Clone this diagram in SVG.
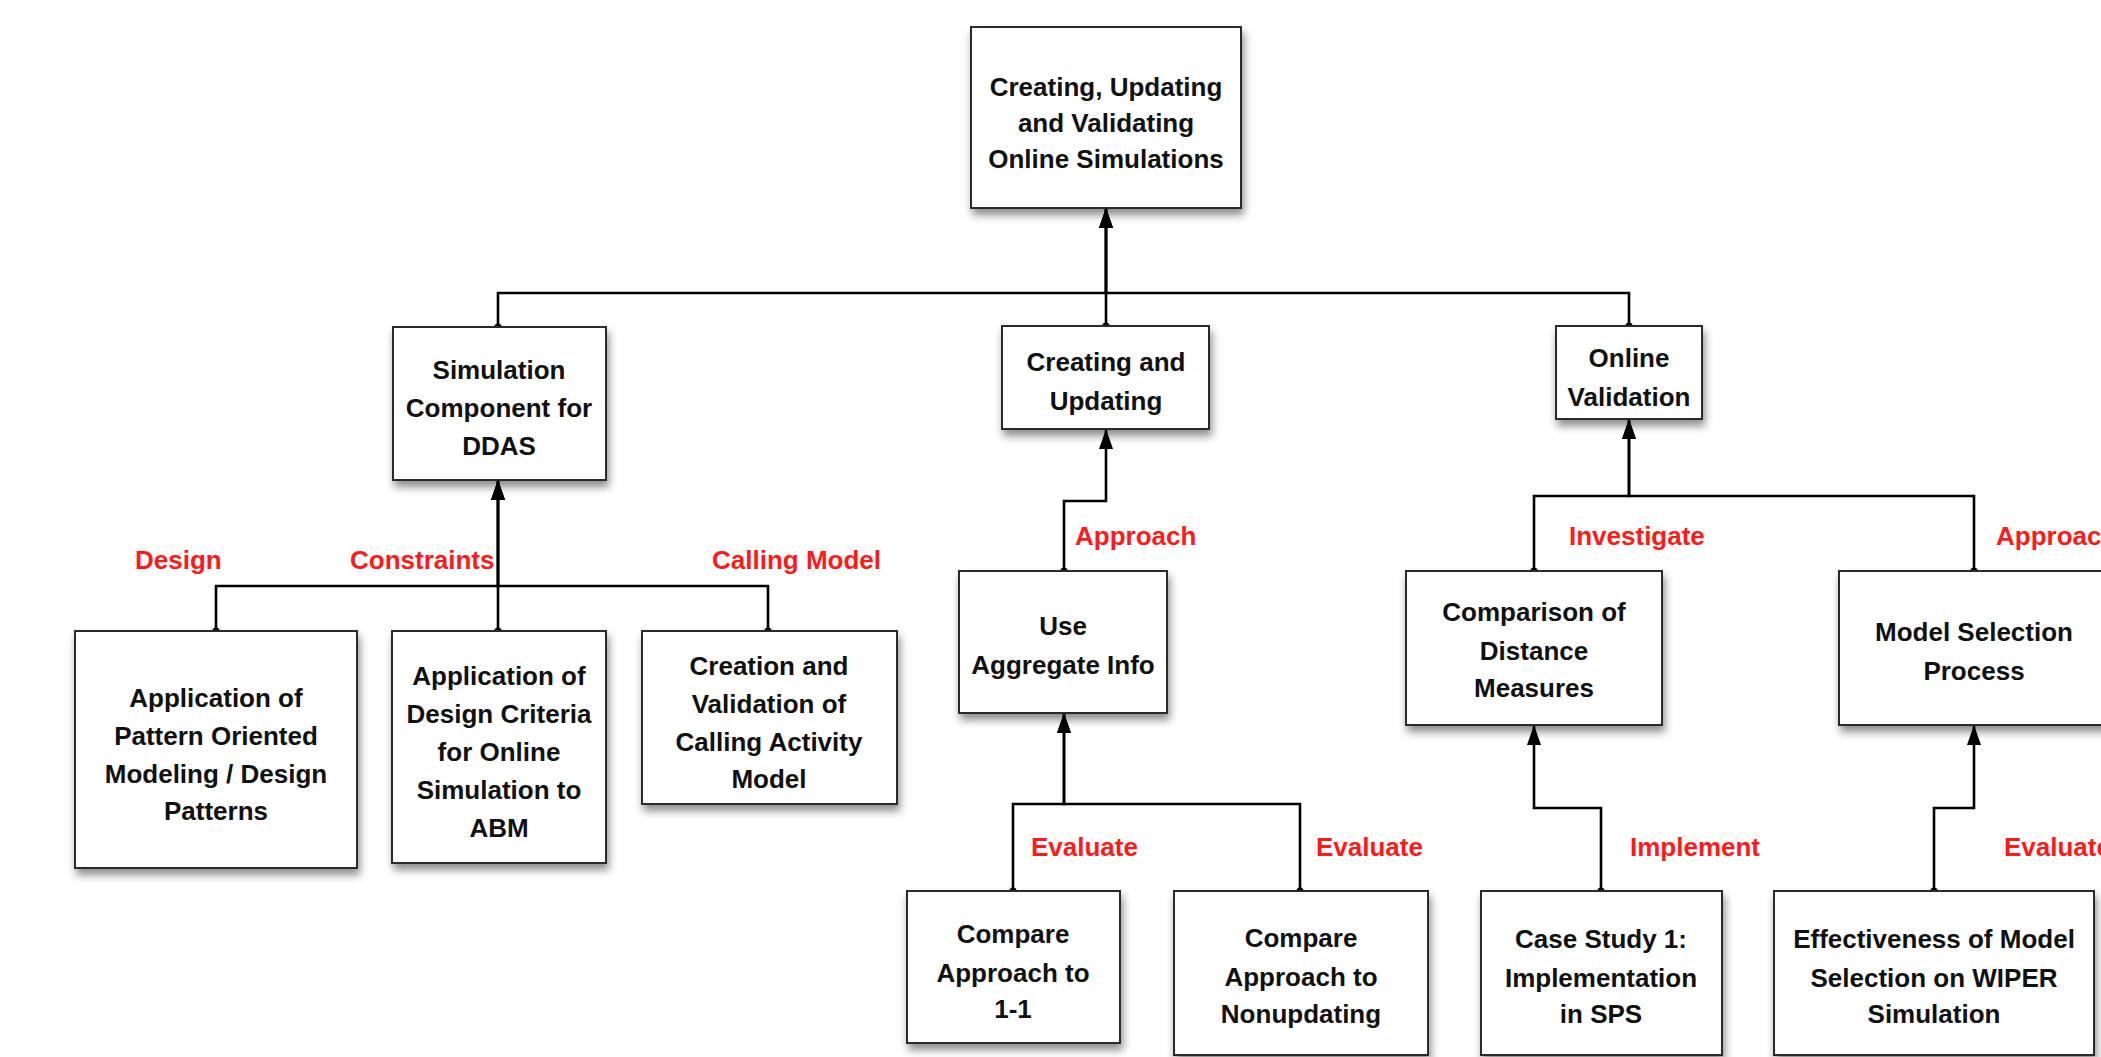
<svg xmlns="http://www.w3.org/2000/svg" width="2101" height="1057" viewBox="0 0 2101 1057">
<style>
.box{fill:#fff;stroke:#2a2a2a;stroke-width:2;filter:url(#sh)}
.t{font-family:"Liberation Sans",Arial,Helvetica,sans-serif;font-weight:bold;font-size:26px;fill:#111;text-anchor:middle}
.lbl{font-family:"Liberation Sans",Arial,Helvetica,sans-serif;font-weight:bold;font-size:26px;fill:#ff1a1a}
.c{fill:none;stroke:#000;stroke-width:2.6;marker-start:url(#dot);marker-end:url(#arr)}
</style>
<defs>
<filter id="sh" x="-10%" y="-10%" width="130%" height="130%">
<feDropShadow dx="2" dy="6" stdDeviation="4" flood-color="#000" flood-opacity="0.45"/>
</filter>
<marker id="arr" viewBox="0 0 20 14" refX="20" refY="7" markerWidth="20" markerHeight="14" markerUnits="userSpaceOnUse" orient="auto">
<path d="M0,0 L20,7 L0,14 Z" fill="#000"/>
</marker>
<marker id="dot" viewBox="0 0 8 8" refX="4" refY="4" markerWidth="8" markerHeight="8" markerUnits="userSpaceOnUse">
<circle cx="4" cy="4" r="3.6" fill="#000"/>
</marker>
</defs>
<rect width="2101" height="1057" fill="#fff"/>

<g id="connectors">
<path class="c" d="M498,327 V293 H1106 V208"/>
<path class="c" d="M1106,326 V208"/>
<path class="c" d="M1629,326 V293 H1106 V208"/>
<path class="c" d="M216,631 V586 H498 V480"/>
<path class="c" d="M498,631 V480"/>
<path class="c" d="M768,631 V586 H498 V480"/>
<path class="c" d="M1064,571 V501 H1106 V429"/>
<path class="c" d="M1013,891 V804 H1064 V713"/>
<path class="c" d="M1300,891 V804 H1064 V713"/>
<path class="c" d="M1534,571 V496 H1629 V419"/>
<path class="c" d="M1974,571 V496 H1629 V419"/>
<path class="c" d="M1601,891 V808 H1534 V725"/>
<path class="c" d="M1934,891 V808 H1974 V725"/>
</g>

<g id="labels">
<text class="lbl" x="135" y="569">Design</text>
<text class="lbl" x="350" y="569">Constraints</text>
<text class="lbl" x="712" y="569">Calling Model</text>
<text class="lbl" x="1075" y="545">Approach</text>
<text class="lbl" x="1569" y="545">Investigate</text>
<text class="lbl" x="1996" y="545">Approach</text>
<text class="lbl" x="1031" y="856">Evaluate</text>
<text class="lbl" x="1316" y="856">Evaluate</text>
<text class="lbl" x="1630" y="856">Implement</text>
<text class="lbl" x="2004" y="856">Evaluate</text>
</g>

<g id="n-top">
<rect class="box" x="971" y="27" width="270" height="181"/>
<text class="t" x="1106" y="96">Creating, Updating</text>
<text class="t" x="1106" y="132">and Validating</text>
<text class="t" x="1106" y="168">Online Simulations</text>
</g>
<g id="n-sim">
<rect class="box" x="393" y="327" width="213" height="153"/>
<text class="t" x="499" y="379">Simulation</text>
<text class="t" x="499" y="417">Component for</text>
<text class="t" x="499" y="455">DDAS</text>
</g>
<g id="n-cu">
<rect class="box" x="1002" y="326" width="207" height="103"/>
<text class="t" x="1106" y="371">Creating and</text>
<text class="t" x="1106" y="410">Updating</text>
</g>
<g id="n-ov">
<rect class="box" x="1556" y="326" width="146" height="93"/>
<text class="t" x="1629" y="367">Online</text>
<text class="t" x="1629" y="406">Validation</text>
</g>
<g id="n-app1">
<rect class="box" x="75" y="631" width="282" height="237"/>
<text class="t" x="216" y="707">Application of</text>
<text class="t" x="216" y="745">Pattern Oriented</text>
<text class="t" x="216" y="783">Modeling / Design</text>
<text class="t" x="216" y="820">Patterns</text>
</g>
<g id="n-app2">
<rect class="box" x="392" y="631" width="214" height="232"/>
<text class="t" x="499" y="685">Application of</text>
<text class="t" x="499" y="723">Design Criteria</text>
<text class="t" x="499" y="761">for Online</text>
<text class="t" x="499" y="799">Simulation to</text>
<text class="t" x="499" y="837">ABM</text>
</g>
<g id="n-cre">
<rect class="box" x="642" y="631" width="255" height="173"/>
<text class="t" x="769" y="675">Creation and</text>
<text class="t" x="769" y="713">Validation of</text>
<text class="t" x="769" y="751">Calling Activity</text>
<text class="t" x="769" y="788">Model</text>
</g>
<g id="n-uai">
<rect class="box" x="959" y="571" width="208" height="142"/>
<text class="t" x="1063" y="635">Use</text>
<text class="t" x="1063" y="674">Aggregate Info</text>
</g>
<g id="n-cmp1">
<rect class="box" x="907" y="891" width="213" height="152"/>
<text class="t" x="1013" y="943">Compare</text>
<text class="t" x="1013" y="982">Approach to</text>
<text class="t" x="1013" y="1018">1-1</text>
</g>
<g id="n-cmp2">
<rect class="box" x="1174" y="891" width="254" height="164"/>
<text class="t" x="1301" y="947">Compare</text>
<text class="t" x="1301" y="986">Approach to</text>
<text class="t" x="1301" y="1023">Nonupdating</text>
</g>
<g id="n-cdm">
<rect class="box" x="1406" y="571" width="256" height="154"/>
<text class="t" x="1534" y="621">Comparison of</text>
<text class="t" x="1534" y="660">Distance</text>
<text class="t" x="1534" y="697">Measures</text>
</g>
<g id="n-msp">
<rect class="box" x="1839" y="571" width="272" height="154"/>
<text class="t" x="1974" y="641">Model Selection</text>
<text class="t" x="1974" y="680">Process</text>
</g>
<g id="n-cs1">
<rect class="box" x="1481" y="891" width="241" height="164"/>
<text class="t" x="1601" y="948">Case Study 1:</text>
<text class="t" x="1601" y="987">Implementation</text>
<text class="t" x="1601" y="1023">in SPS</text>
</g>
<g id="n-eff">
<rect class="box" x="1774" y="891" width="320" height="164"/>
<text class="t" x="1934" y="948">Effectiveness of Model</text>
<text class="t" x="1934" y="987">Selection on WIPER</text>
<text class="t" x="1934" y="1023">Simulation</text>
</g>
</svg>
